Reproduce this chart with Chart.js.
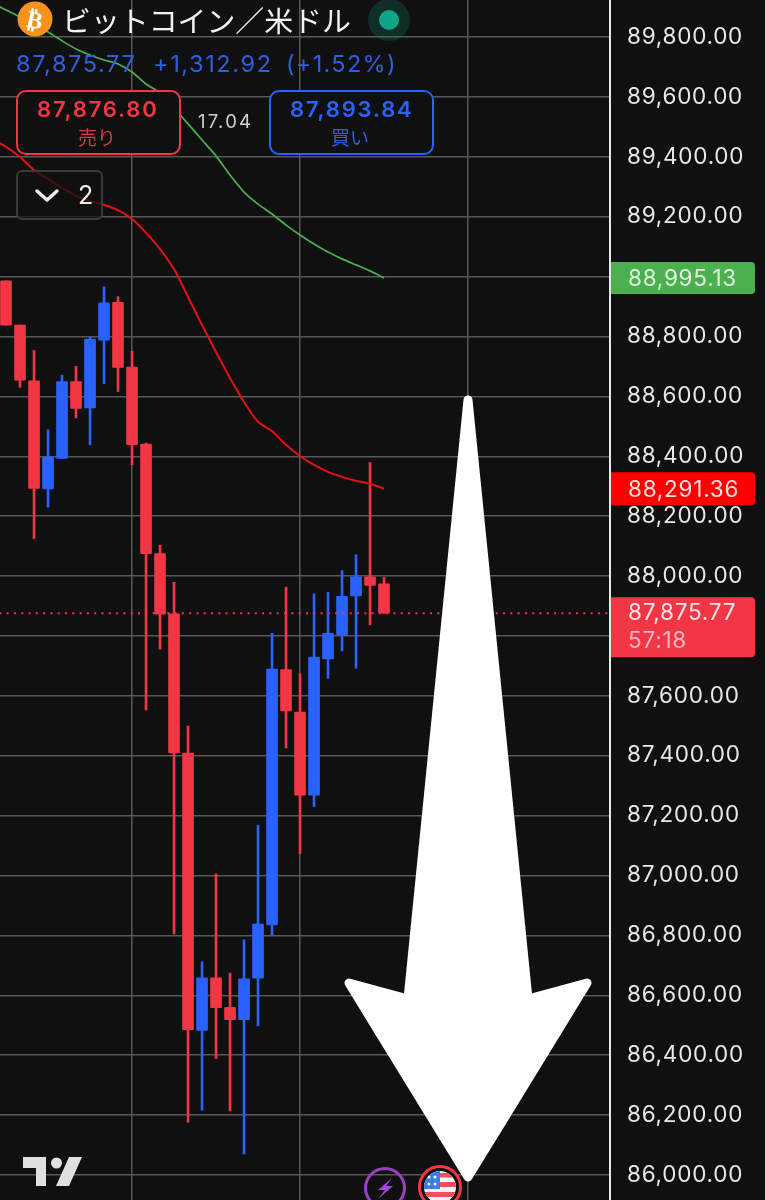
<!DOCTYPE html>
<html lang="ja">
<head>
<meta charset="utf-8">
<title>ビットコイン／米ドル</title>
<script src="https://cdn.jsdelivr.net/npm/chart.js@4"></script>
<style>
  html, body { margin: 0; padding: 0; background: #101010; overflow: hidden; }
  #wrap { position: relative; width: 765px; height: 1200px; font-family: Inter, "Noto Sans CJK JP", sans-serif; }
  canvas { position: absolute; left: 0; top: 0; }
  svg { position: absolute; left: 0; top: 0; }
  .t { position: absolute; white-space: pre; line-height: 1; }
  .box { position: absolute; top: 90px; width: 161px; height: 61px; border-radius: 10px; border: 2px solid; background: #101010; }
</style>
</head>
<body>
<div id="wrap">
  <canvas id="chart" width="765" height="1200"></canvas>

  <div class="t" style="left:62px;top:-2px;font:400 28.9px 'Noto Sans CJK JP';color:#f2f2f2">ビットコイン／米ドル</div>
  <div class="t" style="left:16px;top:52px;font-size:23.5px;color:#2f5fe0;letter-spacing:1.6px">87,875.77</div>
  <div class="t" style="left:153px;top:52px;font-size:23.5px;color:#2f5fe0;letter-spacing:1.6px">+1,312.92</div>
  <div class="t" style="left:286px;top:52px;font-size:23.5px;color:#2f5fe0;letter-spacing:1.3px">(+1.52%)</div>

  <div class="box" style="left:16px;border-color:#f23645"></div>
  <div class="t" style="left:37px;top:98px;font-size:22px;font-weight:600;color:#f23645;letter-spacing:1.8px">87,876.80</div>
  <div class="t" style="left:78px;top:123px;font:400 19px 'Noto Sans CJK JP';color:#d83a4a">売り</div>
  <div class="t" style="left:198px;top:112px;font-size:18.5px;color:#d0d0d0;letter-spacing:2.2px">17.04</div>
  <div class="box" style="left:269px;border-color:#2962ff"></div>
  <div class="t" style="left:290px;top:98px;font-size:22px;font-weight:600;color:#2962ff;letter-spacing:1.8px">87,893.84</div>
  <div class="t" style="left:331px;top:123px;font:400 19px 'Noto Sans CJK JP';color:#2f5fe0">買い</div>

  <div style="position:absolute;left:16px;top:170px;width:83px;height:46px;border:2px solid #3a3a3a;border-radius:6px;background:rgba(16,16,16,.72)"></div>
  <div class="t" style="left:78px;top:183px;font-size:25px;color:#eeeeee">2</div>

  <svg width="765" height="1200" viewBox="0 0 765 1200">
    <defs><clipPath id="flagClip"><circle cx="440" cy="1187" r="16"/></clipPath></defs>
    <circle cx="35" cy="19" r="17.5" fill="#f7931a"/>
    <text x="35" y="28" text-anchor="middle" transform="rotate(12 35 19)" font-family="DejaVu Sans" font-weight="700" font-size="24" fill="#ffffff">₿</text>
    <circle cx="389" cy="20" r="21" fill="#0e9a80" fill-opacity=".22"/>
    <circle cx="389" cy="20" r="10" fill="#0ea58a"/>
    <path d="M37 191 L47 200 L57 191" fill="none" stroke="#eeeeee" stroke-width="3.5" stroke-linecap="round" stroke-linejoin="round"/>

    <path d="M23 1157 H46 V1186 H36 V1168 H23 Z" fill="#e0e0e0"/>
    <circle cx="56.5" cy="1163" r="5.5" fill="#e0e0e0"/>
    <path d="M69 1157 H82 L69 1186 H56 Z" fill="#e0e0e0"/>

    <circle cx="385" cy="1188" r="19.5" fill="none" stroke="#9b3fc4" stroke-width="3"/>
    <path d="M392 1178 L378 1190 H385 L378 1199 L393 1186 H386 Z" fill="#a848d8"/>

    <circle cx="440" cy="1187" r="20.5" fill="#101010" stroke="#f23645" stroke-width="3"/>
    <g clip-path="url(#flagClip)">
      <rect x="424" y="1171" width="32" height="32" fill="#f4f4f4"/>
      <rect x="440" y="1173" width="16" height="4.5" fill="#f0505a"/>
      <rect x="440" y="1182" width="16" height="5" fill="#f0505a"/>
      <rect x="424" y="1192" width="32" height="5" fill="#f0505a"/>
      <rect x="424" y="1171" width="16" height="18" fill="#3a7de8"/>
      <circle cx="429" cy="1177" r="1.5" fill="#fff"/><circle cx="435" cy="1177" r="1.5" fill="#fff"/>
      <circle cx="429" cy="1184" r="1.5" fill="#fff"/><circle cx="435" cy="1184" r="1.5" fill="#fff"/>
    </g>

    <!-- big white arrow -->
    <path d="M468 400 L528 999 L587 983 L468 1177 L349 983 L408 999 Z" fill="#ffffff" stroke="#ffffff" stroke-width="9" stroke-linejoin="round"/>
  </svg>
</div>

<script>
// candle index, one per bar
const candleIndex = [0,1,2,3,4,5,6,7,8,9,10,11,12,13,14,15,16,17,18,19,20,21,22,23,24,25,26,27];
const openPrices = [88986,88838,88652,88291,88393,88649,88561,88788,88914,88698,88441,88075,87874,87409,86483,86658,86560,86519,86657,86835,87688,87546,87268,87723,87803,87934,87997,87974];
const closePrices = [88838,88654,88293,88397,88649,88560,88791,88912,88697,88439,88075,87873,87409,86485,86658,86559,86519,86655,86838,87689,87550,87268,87729,87809,87932,87997,87969,87875.77];
const highPrices = [88986,88838,88753,88488,88671,88700,88798,88966,88933,88751,88444,88103,87979,87499,86712,87005,86674,86785,87168,87809,87963,87673,87940,87946,88018,88071,88379,87996];
const lowPrices = [88838,88630,88125,88230,88393,88528,88438,88642,88616,88371,87553,87756,86805,86176,86217,86389,86214,86070,86498,86802,87426,87074,87230,87659,87750,87692,87837,87875.77];

// moving averages, start one candle left of the screen
const maIndex = [-1,0,1,2,3,4,5,6,7,8,9,10,11,12,13,14,15,16,17,18,19,20,21,22,23,24,25,26,27];
const redMa = [89459,89433,89399,89356,89326,89296,89269,89252,89239,89222,89192,89146,89092,89025,88932,88838,88748,88661,88581,88515,88484,88438,88401,88371,88348,88331,88318,88308,88291.36];
const greenMa = [89914,89890,89867,89840,89817,89787,89760,89740,89723,89710,89683,89643,89613,89563,89510,89456,89403,89339,89282,89242,89209,89172,89139,89109,89082,89059,89039,89019,88995.13];

const lastPrice = 87875.77;
const timeGrid = [9, 21, 33];
const priceTicks = [86000,86200,86400,86600,86800,87000,87200,87400,87600,87800,88000,88200,88400,88600,88800,89000,89200,89400,89600,89800];

const RED = '#f23645';
const BLUE = '#2962ff';
const GRID = '#585858';

const colors = candleIndex.map((_, i) => closePrices[i] >= openPrices[i] ? BLUE : RED);

// price tags on the right axis
const priceTags = [
    { value: greenMa[greenMa.length - 1], h: 32, bg: '#4caf50', fg: '#dff3df', label: '88,995.13' },
    { value: redMa[redMa.length - 1], h: 33, bg: '#ff0000', fg: '#ffdcdc', label: '88,291.36' },
    { value: lastPrice, h: 60, dy: 14, bg: RED, fg: '#ffe6ea', label: '87,875.77', sub: '57:18' }
];

const priceTagPlugin = {
    id: 'priceTags',
    beforeDraw(chart) {
        // the axis numbers are wider spaced than Inter
        chart.ctx.letterSpacing = '0.75px';
    },
    afterDraw(chart) {
        const ctx = chart.ctx;
        const y = chart.scales.y;
        ctx.save();
        priceTags.forEach(tag => {
            const cy = y.getPixelForValue(tag.value) + (tag.dy || 0);
            ctx.fillStyle = tag.bg;
            ctx.beginPath();
            ctx.roundRect(611, cy - tag.h / 2, 144, tag.h, [0, 4, 4, 0]);
            ctx.fill();
            ctx.font = '22.5px Inter';
            ctx.textAlign = 'left';
            ctx.textBaseline = 'middle';
            ctx.fillStyle = tag.fg;
            if (tag.sub) {
                ctx.fillText(tag.label, 628, cy - 14);
                ctx.fillStyle = '#ffb9c3';
                ctx.fillText(tag.sub, 628, cy + 14);
            } else {
                ctx.fillText(tag.label, 628, cy + 1);
            }
        });
        ctx.restore();
    }
};

const chart = new Chart(document.getElementById('chart').getContext('2d'), {
    type: 'bar',
    data: {
        datasets: [
            {
                label: 'wick',
                data: candleIndex.map((x, i) => ({ x: x, y: [lowPrices[i], highPrices[i]] })),
                backgroundColor: colors,
                barThickness: 2,
                order: 3
            },
            {
                label: 'body',
                data: candleIndex.map((x, i) => ({ x: x, y: [openPrices[i], closePrices[i]] })),
                backgroundColor: colors,
                barThickness: 11,
                borderRadius: 1,
                borderSkipped: false,
                order: 2
            },
            {
                type: 'line',
                label: 'MA red',
                data: maIndex.map((x, i) => ({ x: x, y: redMa[i] })),
                borderColor: '#e31212',
                borderWidth: 2,
                pointRadius: 0,
                tension: 0.2,
                order: 1
            },
            {
                type: 'line',
                label: 'MA green',
                data: maIndex.map((x, i) => ({ x: x, y: greenMa[i] })),
                borderColor: '#4caf50',
                borderWidth: 1.7,
                pointRadius: 0,
                tension: 0.2,
                order: 1
            },
            {
                type: 'line',
                label: 'last price',
                data: [{ x: -1, y: lastPrice }, { x: 44, y: lastPrice }],
                borderColor: RED,
                borderWidth: 2,
                borderDash: [2, 5.3],
                pointRadius: 0,
                order: 0
            }
        ]
    },
    options: {
        responsive: false,
        animation: false,
        grouped: false,
        layout: { padding: 0 },
        plugins: { legend: { display: false }, tooltip: { enabled: false } },
        scales: {
            x: {
                type: 'linear',
                min: -0.43,
                max: 43.14,
                offset: false,
                afterBuildTicks(scale) { scale.ticks = timeGrid.map(v => ({ value: v })); },
                afterFit(scale) { scale.height = 0; scale.paddingLeft = 0; scale.paddingRight = 0; },
                grid: { color: GRID, lineWidth: 1.5, offset: false, drawTicks: false },
                border: { display: false },
                ticks: { display: false }
            },
            y: {
                position: 'right',
                min: 85916.5,
                max: 89923.5,
                afterBuildTicks(scale) { scale.ticks = priceTicks.map(v => ({ value: v })); },
                afterFit(scale) { scale.width = 155; scale.paddingTop = 0; scale.paddingBottom = 0; },
                grid: { color: GRID, lineWidth: 1.5, drawTicks: false },
                border: { display: true, color: '#e8e8e8', width: 2 },
                ticks: {
                    padding: 17,
                    labelOffset: 0,
                    color: '#e8e8e8',
                    font: { family: 'Inter', size: 22.5 },
                    callback: v => v.toLocaleString('en-US', { minimumFractionDigits: 2, maximumFractionDigits: 2 })
                }
            }
        }
    },
    plugins: [priceTagPlugin]
});
</script>
</body>
</html>
